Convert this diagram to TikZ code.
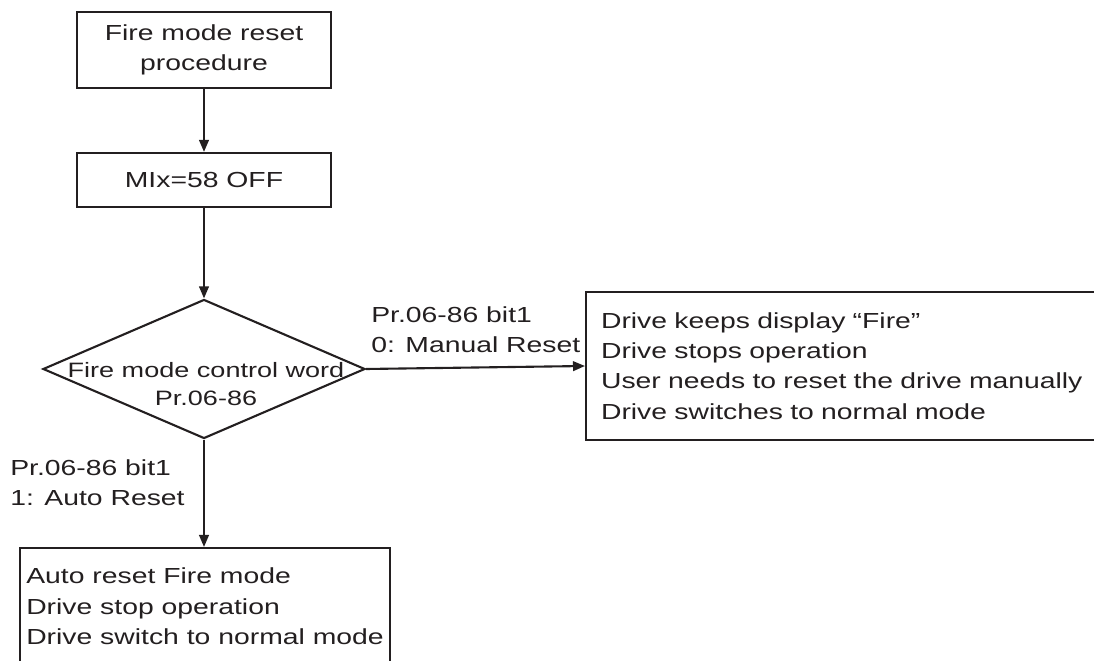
\documentclass[tikz,border=0pt]{standalone}
\usepackage{fontspec}
\setmainfont{Liberation Sans}[FakeStretch=1.3]
\usetikzlibrary{shapes.geometric,arrows.meta}
\definecolor{ink}{HTML}{231F20}
\begin{document}
\begin{tikzpicture}[
  x=0.025cm, y=-0.025cm,
  every node/.style={font=\fontsize{15.5pt}{21.5pt}\selectfont, text=ink},
  box/.style={
    draw=ink,
    line width=1.5pt,
    align=center,
    inner sep=0pt
  },
  listbox/.style={
    draw=ink,
    line width=1.5pt,
    align=left,
    inner xsep=0.375cm
  },
  decision/.style={
    diamond,
    draw=ink,
    line width=1.5pt,
    inner sep=0pt,
    minimum width=8.05cm,
    minimum height=3.475cm
  },
  lbl/.style={align=left, inner sep=0pt, anchor=north west},
  flow/.style={draw=ink, line width=1.5pt, -{Triangle[length=3mm,width=2.4mm]}}
]
\useasboundingbox (0,0) rectangle (1094,661);
\clip (0,0) rectangle (1094,661);

\node[box, minimum width=6.35cm, minimum height=1.9cm] at (204,50) (proc) {Fire mode reset\\procedure};
\node[box, minimum width=6.35cm, minimum height=1.35cm] at (204,180) (mix) {MIx=58 OFF};
\node[decision] at (204,369) (ctrl) {};
\node[align=center, inner sep=0pt, font=\fontsize{14.8pt}{20pt}\selectfont] at (206,384) (ctrltext) {Fire mode control word\\Pr.06-86};
\node[listbox, text width=20cm, minimum height=3.7cm, anchor=west] at (585,366) (manual)
  {Drive keeps display “Fire”\\Drive stops operation\\User needs to reset the drive manually\\Drive switches to normal mode};
\node[listbox, inner xsep=0.15cm, inner ysep=0.5cm, anchor=north] at (205,547) (auto)
  {Auto reset Fire mode\\Drive stop operation\\Drive switch to normal mode};

\node[lbl] at (371,306) (manlbl) {Pr.06-86 bit1\\0: Manual Reset};
\node[lbl] at (10,459) (autolbl) {Pr.06-86 bit1\\1: Auto Reset};

\draw[flow] (proc) -- (mix);
\draw[flow] (mix) -- (ctrl.north);
\draw[flow] (ctrl.east) -- (manual.west);
\draw[flow] (ctrl.south) -- (ctrl.south |- auto.north);
\end{tikzpicture}
\end{document}
